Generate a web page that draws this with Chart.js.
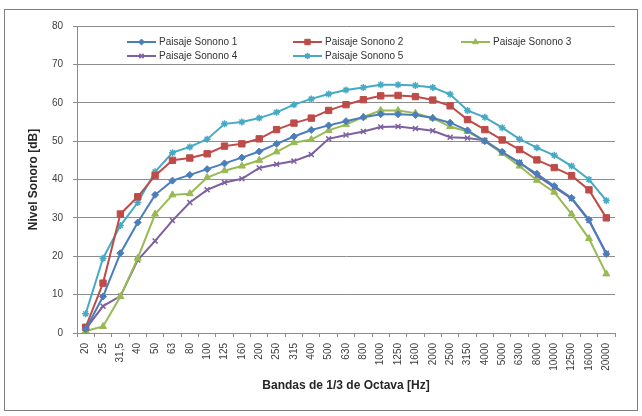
<!DOCTYPE html>
<html>
<head>
<meta charset="utf-8">
<script src="https://cdn.jsdelivr.net/npm/chart.js@4/dist/chart.umd.min.js"></script>
<style>
  html, body { margin: 0; padding: 0; background: #ffffff; }
  canvas { display: block; }
</style>
</head>
<body>
<canvas id="c" width="642" height="416"></canvas>
<script>
const categories = ['20','25','31,5','40','50','63','80','100','125','160','200','250','315','400','500','630','800','1000','1250','1600','2000','2500','3150','4000','5000','6300','8000','10000','12500','16000','20000'];

const seriesNames = ['Paisaje Sonono 1','Paisaje Sonono 2','Paisaje Sonono 3','Paisaje Sonono 4','Paisaje Sonono 5'];

const paisaje1 = [1, 9.5, 20.8, 28.8, 36, 39.7, 41.2, 42.7, 44.2, 45.7, 47.3, 49.3, 51.2, 52.9, 54.1, 55.2, 56.2, 57, 57, 56.8, 56, 54.8, 52.8, 50, 47.2, 44.3, 41.5, 38.3, 35.2, 29.5, 20.6];
const paisaje2 = [1.5, 13, 31, 35.5, 41, 45, 45.6, 46.7, 48.7, 49.3, 50.6, 53, 54.7, 56, 58, 59.5, 60.8, 61.8, 61.9, 61.6, 60.7, 59.2, 55.6, 53, 50.3, 47.8, 45.1, 43.1, 41, 37.3, 30];
const paisaje3 = [0.5, 1.7, 9.5, 19.5, 31, 36, 36.3, 40.5, 42.3, 43.5, 45, 47.2, 49.6, 50.4, 52.8, 54.3, 56.3, 58, 58, 57.3, 56, 53.8, 52.5, 50, 46.8, 43.5, 39.8, 36.7, 31, 24.6, 15.4];
const paisaje4 = [1, 7, 9.6, 19, 24, 29.3, 34, 37.3, 39.2, 40.2, 43, 44, 44.8, 46.5, 50.6, 51.6, 52.5, 53.7, 53.8, 53.3, 52.7, 51, 50.8, 50.2, 47, 44.5, 41, 38, 35, 29.3, 20.8];
const paisaje5 = [5, 19.5, 28, 34, 42, 47, 48.5, 50.5, 54.5, 55, 56, 57.5, 59.5, 61, 62.3, 63.3, 64, 64.7, 64.7, 64.5, 64, 62.2, 58, 56.2, 53.5, 50.5, 48.3, 46.3, 43.5, 40, 34.5];

const yTicks = [0, 10, 20, 30, 40, 50, 60, 70, 80];

const colors = ['#4A7EBB', '#BE4B48', '#98B954', '#7D60A0', '#46AAC5'];
const styles = ['rectRot', 'rect', 'triangle', 'crossRot', 'star'];
const radii = [3.5, 4.5, 4, 3.5, 3.5];
const allSeries = [paisaje1, paisaje2, paisaje3, paisaje4, paisaje5];

const FONT = "'Liberation Sans', Arial, sans-serif";

const datasets = allSeries.map((d, i) => ({
  label: seriesNames[i],
  data: d,
  borderColor: colors[i],
  backgroundColor: colors[i],
  pointBackgroundColor: colors[i],
  pointBorderColor: colors[i],
  pointStyle: styles[i],
  pointRadius: radii[i],
  pointBorderWidth: (styles[i] === 'crossRot' || styles[i] === 'star') ? 1.5 : 1,
  borderWidth: 2,
  tension: 0,
  fill: false
}));

const framePlugin = {
  id: 'frame',
  beforeDraw(chart) {
    const ctx = chart.ctx;
    ctx.save();
    ctx.fillStyle = '#ffffff';
    ctx.fillRect(0, 0, chart.width, chart.height);
    ctx.strokeStyle = '#7f7f7f';
    ctx.lineWidth = 1;
    ctx.strokeRect(4.5, 9.5, 633, 401);
    ctx.restore();
  }
};

const legendPlugin = {
  id: 'innerLegend',
  afterDraw(chart) {
    const ctx = chart.ctx;
    const colX = [127, 293, 461];
    const rowY = [42, 56];
    ctx.save();
    chart.data.datasets.forEach((ds, i) => {
      const x0 = colX[i % 3];
      const y = rowY[Math.floor(i / 3)];
      ctx.strokeStyle = ds.borderColor;
      ctx.fillStyle = ds.borderColor;
      ctx.lineWidth = 2;
      ctx.beginPath();
      ctx.moveTo(x0, y);
      ctx.lineTo(x0 + 29, y);
      ctx.stroke();
      if (Chart.helpers && Chart.helpers.drawPoint) {
        ctx.lineWidth = ds.pointBorderWidth;
        Chart.helpers.drawPoint(ctx, {
          pointStyle: ds.pointStyle,
          radius: ds.pointRadius * 0.85,
          rotation: 0,
          borderWidth: ds.pointBorderWidth
        }, x0 + 14.5, y);
      }
      ctx.fillStyle = '#333333';
      ctx.font = '10px ' + FONT;
      ctx.textAlign = 'left';
      ctx.textBaseline = 'middle';
      ctx.fillText(ds.label, x0 + 32, y);
    });
    ctx.restore();
  }
};

new Chart(document.getElementById('c'), {
  type: 'line',
  data: { labels: categories, datasets: datasets },
  options: {
    responsive: false,
    animation: false,
    layout: { padding: { left: 20, top: 26, right: 27, bottom: 23 } },
    plugins: {
      legend: { display: false },
      tooltip: { enabled: false }
    },
    scales: {
      x: {
        offset: true,
        grid: { drawOnChartArea: false, drawTicks: true, tickLength: 4, color: '#8c8c8c', offset: true },
        border: { color: '#8c8c8c', width: 1 },
        ticks: {
          autoSkip: false, minRotation: 90, maxRotation: 90, padding: 6,
          color: '#404040', font: { family: FONT, size: 10 }
        },
        title: {
          display: true, text: 'Bandas de 1/3 de Octava [Hz]', color: '#262626',
          font: { family: FONT, size: 12, weight: 'bold' }, padding: { top: 4, bottom: 0 }
        },
        afterFit(s) { s.height = 60; }
      },
      y: {
        min: 0, max: 80,
        afterBuildTicks(s) { s.ticks = yTicks.map(v => ({ value: v })); },
        grid: { color: '#8c8c8c', lineWidth: 1, tickLength: 4 },
        border: { color: '#8c8c8c', width: 1 },
        ticks: { padding: 10, color: '#404040', font: { family: FONT, size: 10 } },
        title: {
          display: true, text: 'Nivel Sonoro [dB]', color: '#262626',
          font: { family: FONT, size: 12, weight: 'bold' }, padding: { top: 6, bottom: 0 }
        },
        afterFit(s) { s.width = 57; }
      }
    }
  },
  plugins: [framePlugin, legendPlugin]
});
</script>
</body>
</html>
